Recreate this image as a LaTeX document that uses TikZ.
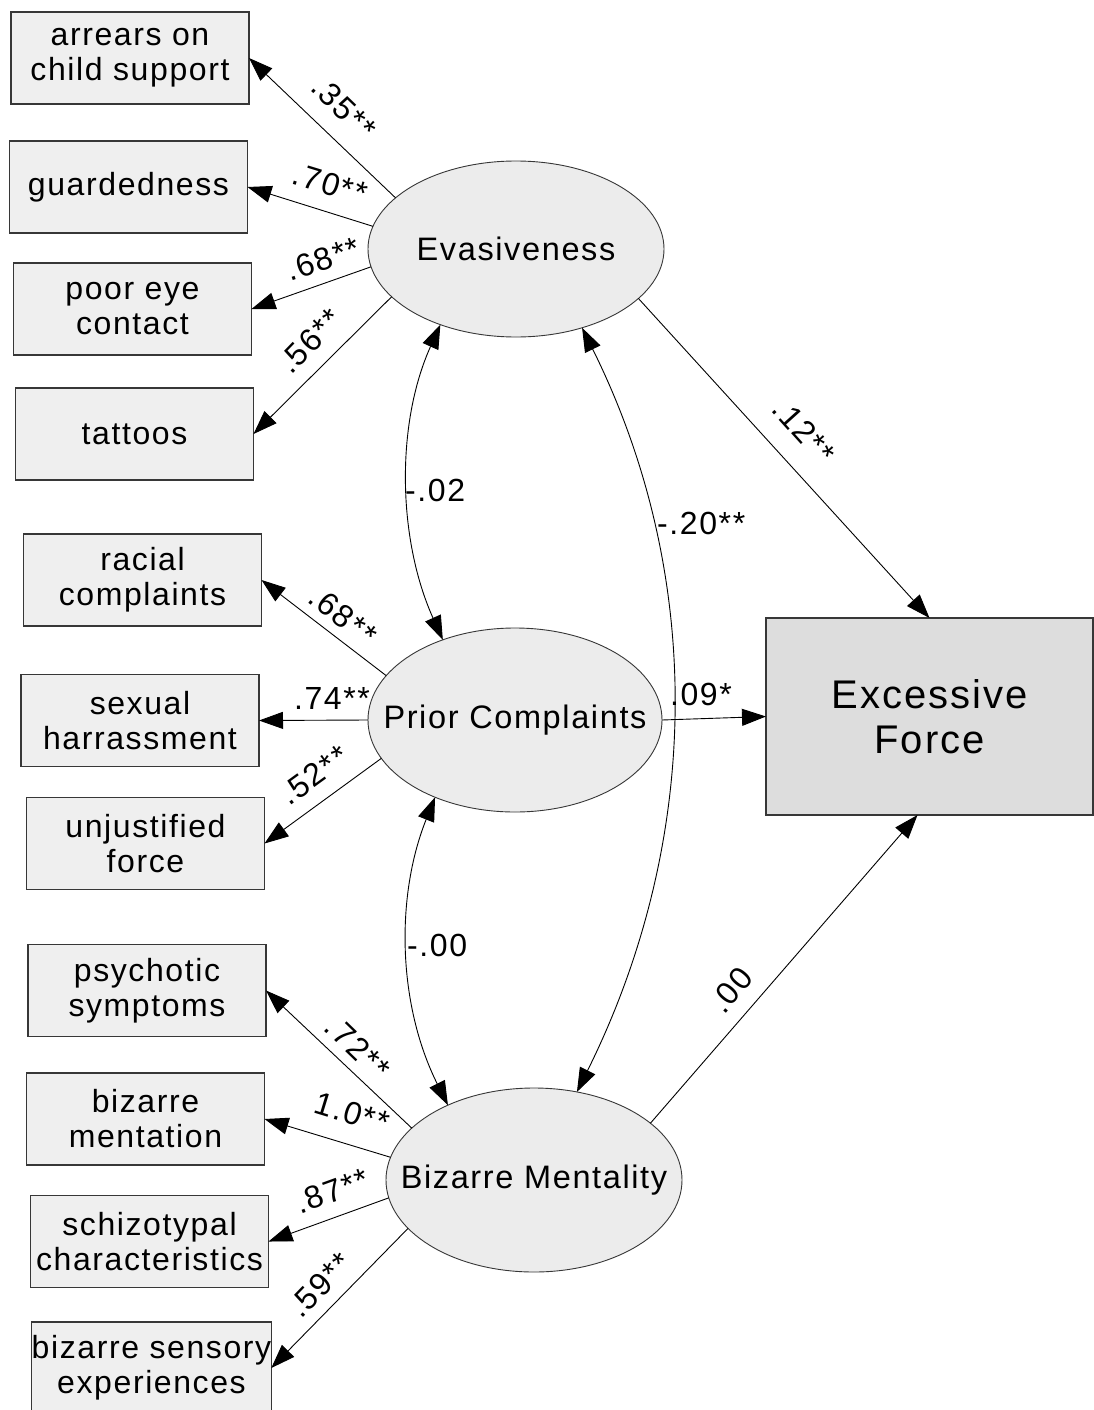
\documentclass[tikz,border=0pt]{standalone}
\usepackage{fontspec}
\usetikzlibrary{shapes.geometric,arrows.meta}
\newfontfamily\lsans{Liberation Sans}[LetterSpace=5]
\definecolor{boxfill}{RGB}{239,239,239}
\definecolor{latfill}{RGB}{236,236,236}
\definecolor{exfill}{RGB}{221,221,221}
\definecolor{edgecol}{RGB}{55,55,55}
\newcommand{\zw}[1]{\makebox[0pt]{#1}}
\begin{document}
\begin{tikzpicture}[x=1pt,y=-1pt,
  obs/.style={draw=edgecol, line width=1.3pt, fill=boxfill, minimum width=238pt, minimum height=92pt,
    inner sep=0pt, outer sep=0pt, align=center, font=\lsans\fontsize{32}{35}\selectfont},
  lat/.style={ellipse, draw=edgecol, line width=0.9pt, fill=latfill, minimum width=296pt, minimum height=176pt,
    inner sep=0pt, outer sep=0pt, font=\lsans\fontsize{32.5}{36}\selectfont},
  outc/.style={draw=edgecol, line width=1.3pt, fill=exfill, minimum width=327pt, minimum height=197pt,
    inner sep=0pt, outer sep=0pt, align=center, font=\lsans\fontsize{40}{45}\selectfont},
  lbl/.style={inner sep=0pt, font=\lsans\fontsize{32}{35}\selectfont},
  arr/.style={line width=0.9pt, -{Triangle[length=24pt,width=17pt]}},
  darr/.style={line width=0.9pt, {Triangle[length=24pt,width=17pt]}-{Triangle[length=24pt,width=17pt]}}
]
\useasboundingbox (0,0) rectangle (1094,1410);
\clip (0,0) rectangle (1094,1410);
\fill[white] (0,0) rectangle (1094,1410);

% observed indicators
\node[obs] (b1) at (130,58) {arrears on\\child support};
\node[obs] (b2) at (128.5,187) {guardedness};
\node[obs] (b3) at (132.5,309) {poor eye\\contact};
\node[obs] (b4) at (134.5,434) {tattoos};
\node[obs] (b5) at (142.5,580) {racial\\complaints};
\node[obs] (b6) at (140,720.5) {sexual\\harrassment};
\node[obs] (b7) at (145.5,843.5) {unjustified\\force};
\node[obs] (b8) at (147,990.5) {psychotic\\symptoms};
\node[obs] (b9) at (145.5,1119) {bizarre\\mentation};
\node[obs] (b10) at (149.5,1241.5) {schizotypal\\characteristics};
\node[obs] (b11) at (151.5,1368) {bizarre sensory\\experiences};

% latent variables
\node[lat] (Ev) at (516,249) {\zw{Evasiveness}};
\node[lat, minimum width=294pt, minimum height=184pt] (Pr) at (515,720) {\zw{Prior Complaints}};
\node[lat, minimum height=184pt] (Bz) at (534,1180) {\zw{Bizarre Mentality}};

% outcome
\node[outc] (Ex) at (929.5,716.5) {Excessive\\Force};

% loadings
\draw[arr] (Ev.157) -- (b1.east);
\draw[arr] (Ev.171) -- (b2.east);
\draw[arr] (Ev.187) -- (b3.east);
\draw[arr] (Ev.201) -- (b4.east);
\draw[arr] (Pr.161) -- (b5.east);
\draw[arr] (Pr.180) -- (b6.east);
\draw[arr] (Pr.196.5) -- (b7.east);
\draw[arr] (Bz.157) -- (b8.east);
\draw[arr] (Bz.171) -- (b9.east);
\draw[arr] (Bz.187) -- (b10.east);
\draw[arr] (Bz.201) -- (b11.east);

% structural paths
\draw[arr] (Ev.338) -- (Ex.north);
\draw[arr] (Pr.east) -- (Ex.west);
\draw[arr] (Bz.26) -- ([xshift=-12pt]Ex.south);

% covariances
\draw[darr] (Ev.225) .. controls +(-45,100) and +(-45,-100) .. (Pr.132);
\draw[darr] (Pr.224) .. controls +(-40,100) and +(-50,-100) .. (Bz.139);
\draw[darr] (Ev.310) .. controls +(124,250) and +(124,-250) .. (Bz.64);

% labels
\node[lbl, rotate=-44] (l1) at (344,108) {.35**};
\node[lbl, rotate=-17] (l2) at (330,184) {.70**};
\node[lbl, rotate=19] (l3) at (323,259) {.68**};
\node[lbl, rotate=46] (l4) at (310,341) {.56**};
\node[lbl, rotate=-38] (l5) at (343,616) {.68**};
\node[lbl] (l6) at (332,698) {.74**};
\node[lbl, rotate=36] (l7) at (314,775) {.52**};
\node[lbl, rotate=-44] (l8) at (358,1048) {.72**};
\node[lbl, rotate=-17] (l9) at (352,1113) {1.0**};
\node[lbl, rotate=20] (l10) at (332,1191) {.87**};
\node[lbl, rotate=46] (l11) at (320,1285) {.59**};
\node[lbl, rotate=-48] (l12) at (804,431) {.12**};
\node[lbl] (l13) at (701,694) {.09*};
\node[lbl, rotate=50] (l14) at (731,990) {.00};
\node[lbl, anchor=west] (c1) at (405,490) {-.02};
\node[lbl, anchor=west] (c2) at (657,523) {-.20**};
\node[lbl, anchor=west] (c3) at (407,945) {-.00};
\end{tikzpicture}
\end{document}
